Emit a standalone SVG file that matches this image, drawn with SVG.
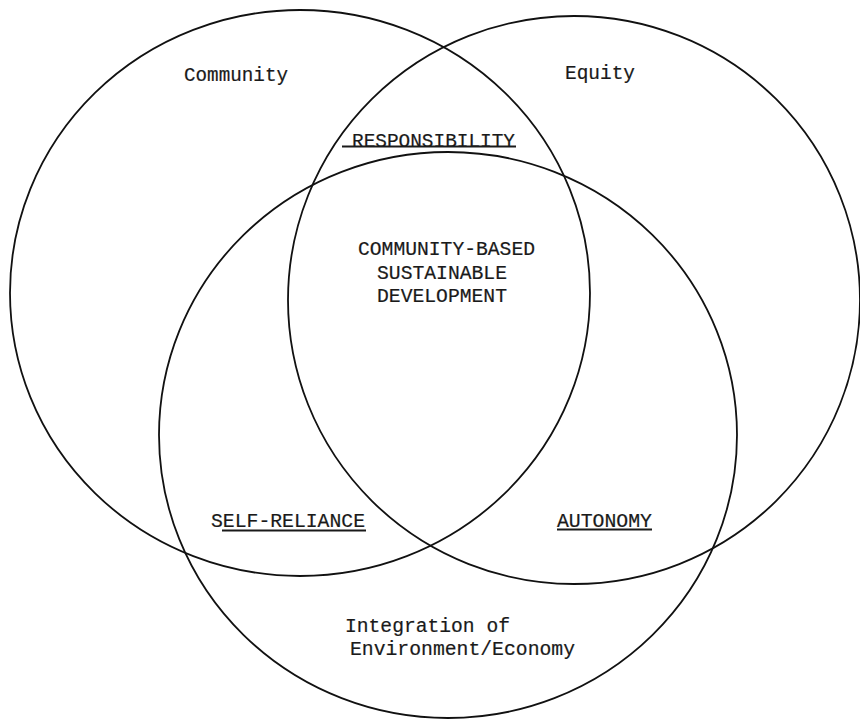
<svg xmlns="http://www.w3.org/2000/svg" width="860" height="720" viewBox="0 0 860 720">
  <style>
    .ring { fill: none; stroke: #111; stroke-width: 1.8; }
    .lbl { font-family: "Liberation Mono", "Courier New", monospace; font-size: 19.5px; fill: #1a1a1a; stroke: #1a1a1a; stroke-width: 0.2; }
    .rule { stroke: #1a1a1a; stroke-width: 1.8; }
  </style>
  <rect width="860" height="720" fill="#ffffff"/>

  <!-- the three overlapping sets -->
  <g id="set-community">
    <ellipse class="ring" cx="300" cy="293" rx="290" ry="283"/>
    <text class="lbl" x="184" y="81" textLength="104" lengthAdjust="spacingAndGlyphs">Community</text>
  </g>
  <g id="set-equity">
    <ellipse class="ring" cx="574" cy="300" rx="286" ry="284"/>
    <text class="lbl" x="565" y="79" textLength="70" lengthAdjust="spacingAndGlyphs">Equity</text>
  </g>
  <g id="set-integration">
    <ellipse class="ring" cx="448" cy="435" rx="289" ry="283"/>
    <text class="lbl" x="345" y="632" textLength="165" lengthAdjust="spacingAndGlyphs">Integration of</text>
    <text class="lbl" x="350" y="655" textLength="225" lengthAdjust="spacingAndGlyphs">Environment/Economy</text>
  </g>

  <!-- pairwise overlaps -->
  <g id="overlap-responsibility">
    <text class="lbl" x="352" y="147" textLength="163" lengthAdjust="spacingAndGlyphs">RESPONSIBILITY</text>
    <line class="rule" x1="342" y1="146.5" x2="516" y2="146.5"/>
  </g>
  <g id="overlap-self-reliance">
    <text class="lbl" x="211" y="527" textLength="154" lengthAdjust="spacingAndGlyphs">SELF-RELIANCE</text>
    <line class="rule" x1="222" y1="530.5" x2="366" y2="530.5"/>
  </g>
  <g id="overlap-autonomy">
    <text class="lbl" x="557" y="527" textLength="95" lengthAdjust="spacingAndGlyphs">AUTONOMY</text>
    <line class="rule" x1="557" y1="529.5" x2="652" y2="529.5"/>
  </g>

  <!-- centre of all three -->
  <g id="core">
    <text class="lbl" x="358" y="255" textLength="177" lengthAdjust="spacingAndGlyphs">COMMUNITY-BASED</text>
    <text class="lbl" x="377" y="279" textLength="130" lengthAdjust="spacingAndGlyphs">SUSTAINABLE</text>
    <text class="lbl" x="377" y="302" textLength="130" lengthAdjust="spacingAndGlyphs">DEVELOPMENT</text>
  </g>
</svg>
